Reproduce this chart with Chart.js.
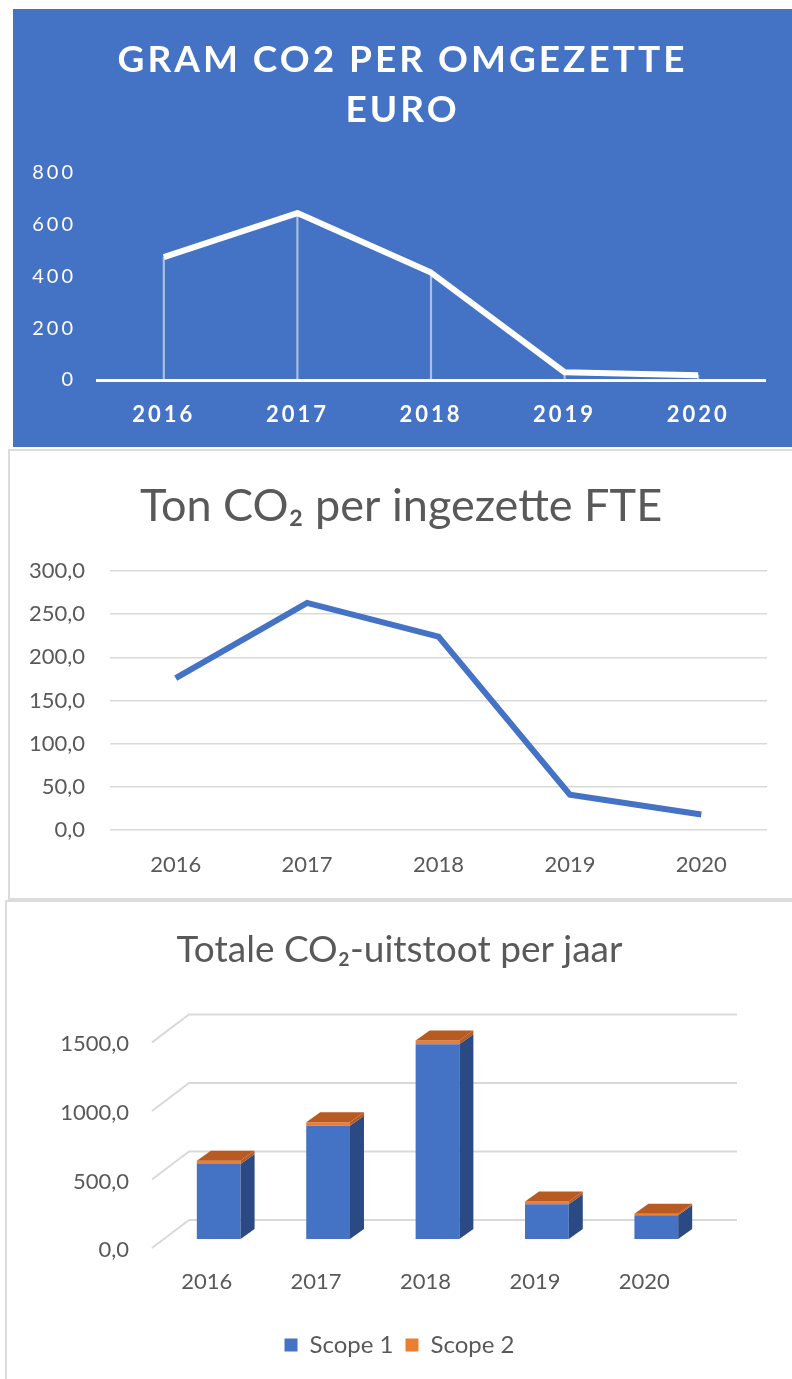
<!DOCTYPE html>
<html><head><meta charset="utf-8">
<script src="https://cdn.jsdelivr.net/npm/chart.js@4.4.1/dist/chart.umd.min.js"></script>
<style>
html,body{margin:0;padding:0;background:#fff;width:792px;height:1379px;overflow:hidden;position:relative;}
.p{position:absolute;box-sizing:border-box;}
canvas{position:absolute;}
</style></head><body>
<div class="p" style="left:13px;top:9px;width:779px;height:438px;background:#4472C4;"></div>
<div class="p" style="left:8px;top:449px;width:790px;height:451px;border:2px solid #dcdcdc;"></div>
<div class="p" style="left:5px;top:900px;width:792px;height:485px;border:2px solid #dcdcdc;"></div>
<canvas id="c1" style="left:13px;top:9px;" width="779" height="438"></canvas>
<canvas id="c2" style="left:10px;top:451px;" width="782" height="447"></canvas>
<canvas id="c3" style="left:7px;top:902px;" width="785" height="477"></canvas>
<script>
// ---- data ----
const years = ['2016', '2017', '2018', '2019', '2020'];
const gramPerEuro = [475, 645, 415, 30, 18];
const tonPerFte = [176, 263, 224, 41, 18];
const scope1 = [548, 826, 1420, 254, 174];
const scope2 = [22, 25, 28, 20, 10];
const title1 = ['GRAM CO2 PER OMGEZETTE', 'EURO'];
const title2 = 'Ton CO\u2082 per ingezette FTE';
const title3 = 'Totale CO\u2082-uitstoot per jaar';
const seriesNames = ['Scope 1', 'Scope 2'];

const FONT = 'Lato';
const GREY = '#595959';
const fmt1 = v => Number(v).toFixed(1).replace('.', ',');

Chart.defaults.font.family = FONT;
Chart.defaults.devicePixelRatio = 1;

// empty right-hand axis that only reserves room, so titles stay centred on the canvas
const spacer = w => ({ position: 'right', display: true, grid: { display: false }, border: { display: false },
  ticks: { display: false }, afterFit: s => { s.width = w; } });

// letter spacing for panel 1
const spacing = {
  id: 'spacing',
  beforeLayout(c) { c.ctx.letterSpacing = '3px'; },
  beforeDraw(c) { c.ctx.letterSpacing = '3px'; }
};

new Chart(document.getElementById('c1'), {
  type: 'line',
  data: {
    labels: years,
    datasets: [
      { type: 'line', data: gramPerEuro, borderColor: '#ffffff', borderWidth: 6, pointRadius: 0, order: 0, borderJoinStyle: 'round' },
      { type: 'bar', data: gramPerEuro, backgroundColor: 'rgba(255,255,255,0.55)', barThickness: 1.5, order: 1 }
    ]
  },
  options: {
    responsive: false, animation: false,
    layout: { padding: 0 },
    plugins: {
      legend: { display: false }, tooltip: { enabled: false },
      title: { display: true, text: title1, color: '#ffffff', font: { family: FONT, size: 37, weight: 'bold', lineHeight: 1.35 }, padding: { top: 26, bottom: 38 } }
    },
    scales: {
      x: { offset: true, grid: { display: false }, border: { display: true, color: '#ffffff', width: 3 },
           ticks: { color: '#ffffff', font: { size: 22, weight: 'bold' }, padding: 14 },
           afterFit: s => { s.height = 67; } },
      y: { min: 0, max: 800, grid: { display: false }, border: { display: false },
           ticks: { stepSize: 200, color: '#ffffff', font: { size: 20 }, padding: 13 },
           afterFit: s => { s.width = 84; } },
      yr: spacer(27)
    }
  },
  plugins: [spacing]
});

new Chart(document.getElementById('c2'), {
  type: 'line',
  data: {
    labels: years,
    datasets: [{ data: tonPerFte, borderColor: '#4472C4', borderWidth: 6, pointRadius: 0 }]
  },
  options: {
    responsive: false, animation: false,
    layout: { padding: 0 },
    plugins: {
      legend: { display: false }, tooltip: { enabled: false },
      title: { display: true, text: title2, color: GREY, font: { family: FONT, size: 45, weight: 'normal', lineHeight: 1.2 }, padding: { top: 28, bottom: 38 } }
    },
    scales: {
      x: { offset: true, grid: { display: false }, border: { display: false },
           ticks: { color: GREY, font: { size: 22 }, padding: 14 },
           afterFit: s => { s.height = 68; } },
      y: { min: 0, max: 300, grid: { color: '#d9d9d9', lineWidth: 1.5, drawTicks: false }, border: { display: false },
           ticks: { stepSize: 50, color: GREY, font: { size: 22 }, padding: 25, callback: v => fmt1(v) },
           afterFit: s => { s.width = 100; } },
      yr: spacer(25)
    }
  }
});

const depth3d = {
  id: 'depth3d',
  beforeDatasetsDraw(chart) {
    const { ctx, chartArea: { left, right }, scales: { y } } = chart;
    ctx.save();
    ctx.strokeStyle = '#d9d9d9'; ctx.lineWidth = 2;
    y.ticks.forEach(t => {
      const py = y.getPixelForValue(t.value);
      ctx.beginPath();
      ctx.moveTo(left - 12, py + 9);
      ctx.lineTo(left + 25, py - 19);
      ctx.lineTo(right + 26, py - 19);
      ctx.stroke();
    });
    ctx.restore();
  },
  afterDatasetsDraw(chart) {
    const ctx = chart.ctx, dx = 14, dy = 10;
    const n = chart.data.datasets.length;
    ctx.save();
    chart.data.datasets.forEach((ds, i) => {
      chart.getDatasetMeta(i).data.forEach(el => {
        const { x, y, base, width } = el.getProps(['x', 'y', 'base', 'width'], true);
        const l = x - width / 2, r = x + width / 2;
        ctx.fillStyle = ds.sideColor;
        ctx.beginPath();
        ctx.moveTo(r, y); ctx.lineTo(r + dx, y - dy); ctx.lineTo(r + dx, base - dy); ctx.lineTo(r, base);
        ctx.closePath(); ctx.fill();
        if (i === n - 1) {
          ctx.fillStyle = ds.topColor;
          ctx.beginPath();
          ctx.moveTo(l, y); ctx.lineTo(l + dx, y - dy); ctx.lineTo(r + dx, y - dy); ctx.lineTo(r, y);
          ctx.closePath(); ctx.fill();
        }
      });
    });
    ctx.restore();
  }
};

new Chart(document.getElementById('c3'), {
  type: 'bar',
  data: {
    labels: years,
    datasets: [
      { label: seriesNames[0], data: scope1, backgroundColor: '#4472C4', sideColor: '#2B4A83', topColor: '#2B4A83', categoryPercentage: 1, barPercentage: 0.4 },
      { label: seriesNames[1], data: scope2, backgroundColor: '#ED7D31', sideColor: '#B85B22', topColor: '#B85B22', categoryPercentage: 1, barPercentage: 0.4 }
    ]
  },
  options: {
    responsive: false, animation: false,
    layout: { padding: { left: 0, right: 0, top: 0, bottom: 12 } },
    plugins: {
      tooltip: { enabled: false },
      title: { display: true, text: title3, color: GREY, font: { family: FONT, size: 37, weight: 'normal', lineHeight: 1.2 }, padding: { top: 26, bottom: 61 } },
      legend: { position: 'bottom', labels: { boxWidth: 13, boxHeight: 13, color: GREY, font: { size: 24 }, padding: 12 } }
    },
    scales: {
      x: { stacked: true, grid: { display: false }, border: { display: false },
           ticks: { color: GREY, font: { size: 22 }, padding: 22, labelOffset: -12 },
           afterFit: s => { s.height = 82; } },
      y: { stacked: true, min: 0, max: 1500, grid: { display: false }, border: { display: false },
           ticks: { stepSize: 500, color: GREY, font: { size: 22 }, padding: 27, labelOffset: 11, callback: v => fmt1(v) },
           afterFit: s => { s.width = 157; } },
      yr: spacer(81)
    }
  },
  plugins: [depth3d]
});
</script>
</body></html>
